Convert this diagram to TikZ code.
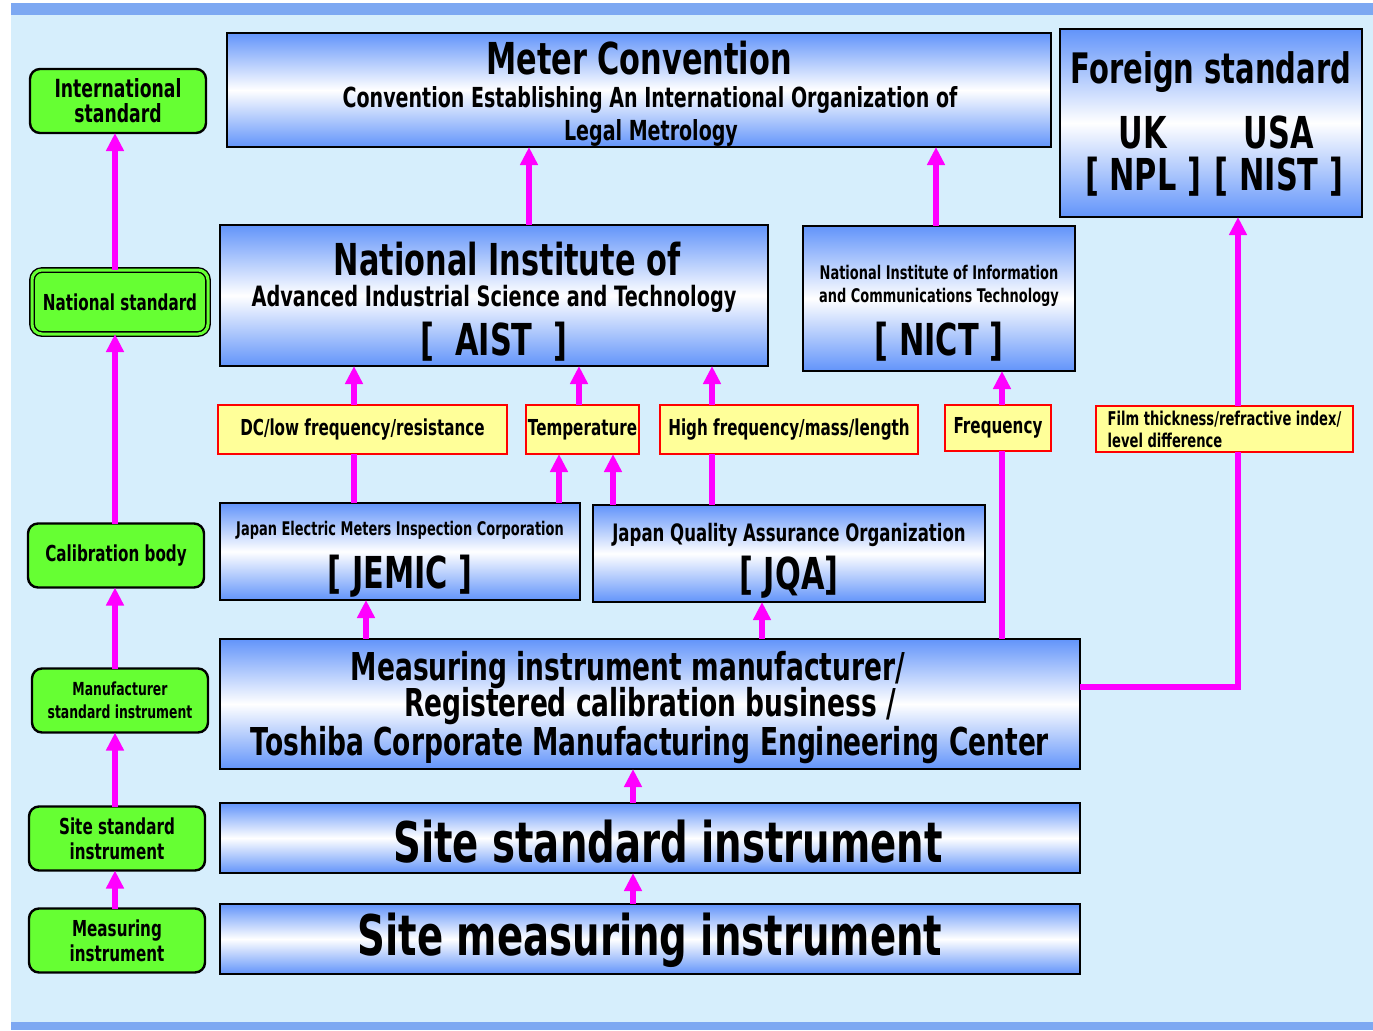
\documentclass[tikz,border=0pt]{standalone}
\usepackage{fontspec}
\setmainfont{DejaVu Sans}[FakeStretch=0.69]
\usetikzlibrary{arrows.meta}
\definecolor{bgblue}{RGB}{214,238,252}
\definecolor{barblue}{RGB}{125,168,242}
\definecolor{boxblue}{RGB}{98,148,250}
\definecolor{lime}{RGB}{102,255,51}
\definecolor{paleyellow}{RGB}{255,255,153}
\definecolor{pink}{RGB}{255,0,255}
\newcommand\setfs[2]{\fontsize{#1}{#2}\selectfont\bfseries\lineskiplimit=-50pt\relax}
\begin{document}
\begin{tikzpicture}[x=0.5pt, y=-0.5pt, line join=miter,
    every node/.style={inner sep=0pt, outer sep=0pt, align=center},
    bluebox/.style={draw=black, line width=1.3pt, top color=boxblue, bottom color=boxblue, middle color=white, text depth=0pt},
    greenbox/.style={draw=black, line width=1.2pt, fill=lime, rounded corners=5pt, minimum width=88pt, minimum height=32pt, font=\setfs{11}{12.5}},
    tagbox/.style={draw=red, line width=1pt, fill=paleyellow, minimum height=24.5pt, font=\setfs{11}{12.5}},
    uparrow/.style={draw=pink, line width=3pt, -{Triangle[width=8.5pt,length=9pt]}},
    feed/.style={draw=pink, line width=3pt}]
    \useasboundingbox (0,0) rectangle (1373,1030);
    \fill[bgblue] (11,15) rectangle (1373,1022);
    \fill[barblue] (11,3) rectangle (1373,15);
    \fill[barblue] (11,1022) rectangle (1373,1030);

    \node[bluebox, minimum width=412pt, minimum height=57pt, font=\setfs{13.8}{16.5}, text height=50pt] (meter) at (639,90) {{\setfs{22}{24}Meter Convention}\\\hspace*{11pt}Convention Establishing An International Organization of\\\hspace*{12pt}Legal Metrology};
    \node[bluebox, minimum width=151pt, minimum height=94pt, font=\setfs{22}{21}, text height=67pt] (foreign) at (1211,123) {{\setfs{21}{21}Foreign standard}\\[11.5pt]\makebox[68pt]{UK}\makebox[68pt]{USA}\\\makebox[68pt]{[ NPL ]}\makebox[68pt]{[ NIST ]}};
    \node[bluebox, minimum width=274pt, minimum height=70.5pt, font=\setfs{14}{15.5}, text height=59.5pt] (aist) at (494,295.5) {{\setfs{22}{21}\hspace*{13pt}National Institute of}\\Advanced Industrial Science and Technology\\[9pt]{\setfs{22}{24}[~~AIST~~]}};
    \node[bluebox, minimum width=136pt, minimum height=72.5pt, font=\setfs{9.4}{11.5}, text height=56.5pt] (nict) at (939,298.5) {National Institute of Information\\and Communications Technology\\[15pt]{\setfs{22}{24}[ NICT ]}};
    \node[bluebox, minimum width=180pt, minimum height=48.5pt, font=\setfs{9.4}{26.5}, text height=36.5pt] (jemic) at (400,551.5) {Japan Electric Meters Inspection Corporation\\{\setfs{22}{24}[ JEMIC ]}};
    \node[bluebox, minimum width=196pt, minimum height=48.5pt, font=\setfs{12}{24}, text height=35.5pt] (jqa) at (789,553.5) {Japan Quality Assurance Organization\\{\setfs{22}{24}[ JQA]}};
    \node[bluebox, minimum width=430pt, minimum height=65pt, font=\setfs{19.2}{18}, text height=51pt] (maker) at (650,704) {\hspace*{-22pt}Measuring instrument manufacturer/\\Registered calibration business /\\[1.5pt]Toshiba Corporate Manufacturing Engineering Center};
    \node[bluebox, minimum width=430pt, minimum height=35pt, font=\setfs{28}{30}, text height=24pt] (sitestd) at (650,838) {\hspace*{18pt}Site standard instrument};
    \node[bluebox, minimum width=430pt, minimum height=35pt, font=\setfs{28}{30}, text height=16pt] (sitemeas) at (650,939) {Site measuring instrument};

    \node[tagbox, minimum width=144.5pt] (dc) at (362.5,429.5) {DC/low frequency/resistance};
    \node[tagbox, minimum width=56.5pt] (temp) at (582.5,429.5) {Temperature};
    \node[tagbox, minimum width=129pt] (hifreq) at (789,429.5) {High frequency/mass/length};
    \node[tagbox, minimum width=53pt, minimum height=23pt] (freq) at (998,428) {Frequency};
    \node[tagbox, minimum width=128.5pt, minimum height=23pt, font=\setfs{9.5}{11}, align=left] (film) at (1224.5,429) {Film thickness/refractive index/\\level difference};

    \node[greenbox, font=\setfs{12.5}{12.5}] (intl) at (118,101) {International\\standard};
    \node[greenbox, double=lime, double distance=1.5pt, line width=0.7pt] (natl) at (120,302) {National standard};
    \node[greenbox] (calib) at (116,555.5) {Calibration body};
    \node[greenbox, font=\setfs{9}{11.5}] (mfrstd) at (120,700.5) {Manufacturer\\standard instrument};
    \node[greenbox] (sitestdl) at (117,838.5) {Site standard\\instrument};
    \node[greenbox] (measl) at (117,940.5) {Measuring\\instrument};

    \coordinate (xl) at (115,0);
    \coordinate (xa) at (529,0);
    \coordinate (xb) at (936,0);
    \coordinate (xdc) at (354,0);
    \coordinate (xtemp) at (579,0);
    \coordinate (xj) at (559,0);
    \coordinate (xq) at (613,0);
    \coordinate (xhf) at (712,0);
    \coordinate (xfr) at (1002,0);
    \coordinate (xfilm) at (1238,0);
    \coordinate (xje) at (366,0);
    \coordinate (xjq) at (762,0);
    \coordinate (xsite) at (633,0);
    \coordinate (yfilm) at (0,687);

    \foreach \a/\b in {natl/intl, calib/natl, mfrstd/calib, sitestdl/mfrstd, measl/sitestdl}
        \draw[uparrow] (xl |- \a.north) -- (xl |- \b.south);
    \draw[uparrow] (xa |- aist.north) -- (xa |- meter.south);
    \draw[uparrow] (xb |- nict.north) -- (xb |- meter.south);
    \draw[feed] (xdc |- jemic.north) -- (xdc |- dc.south);
    \draw[uparrow] (xdc |- dc.north) -- (xdc |- aist.south);
    \draw[uparrow] (xtemp |- temp.north) -- (xtemp |- aist.south);
    \draw[uparrow] (xj |- jemic.north) -- (xj |- temp.south);
    \draw[uparrow] (xq |- jqa.north) -- (xq |- temp.south);
    \draw[feed] (xhf |- jqa.north) -- (xhf |- hifreq.south);
    \draw[uparrow] (xhf |- hifreq.north) -- (xhf |- aist.south);
    \draw[feed] (xfr |- maker.north) -- (xfr |- freq.south);
    \draw[uparrow] (xfr |- freq.north) -- (xfr |- nict.south);
    \draw[feed] (maker.east |- yfilm) -| (xfilm |- film.south);
    \draw[uparrow] (xfilm |- film.north) -- (xfilm |- foreign.south);
    \draw[uparrow] (xje |- maker.north) -- (xje |- jemic.south);
    \draw[uparrow] (xjq |- maker.north) -- (xjq |- jqa.south);
    \draw[uparrow] (xsite |- sitestd.north) -- (xsite |- maker.south);
    \draw[uparrow] (xsite |- sitemeas.north) -- (xsite |- sitestd.south);
\end{tikzpicture}
\end{document}
